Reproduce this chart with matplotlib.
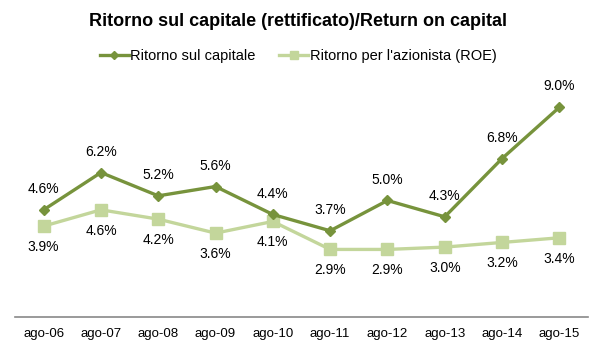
import matplotlib
matplotlib.use("Agg")
import matplotlib.pyplot as plt

categories = ["ago-06", "ago-07", "ago-08", "ago-09", "ago-10", "ago-11", "ago-12", "ago-13", "ago-14", "ago-15"]
roc = [4.6, 6.2, 5.2, 5.6, 4.4, 3.7, 5.0, 4.3, 6.8, 9.0]
roe = [3.9, 4.6, 4.2, 3.6, 4.1, 2.9, 2.9, 3.0, 3.2, 3.4]
title = "Ritorno sul capitale (rettificato)/Return on capital"
name_roc = "Ritorno sul capitale"
name_roe = "Ritorno per l'azionista (ROE)"

plt.rcParams['font.family'] = ['Liberation Sans', 'DejaVu Sans']

dark = "#77933C"
light = "#C3D69B"

fig = plt.figure(figsize=(5.96, 3.52), dpi=100)
ax = fig.add_axes([15/596, 35/352, 573/596, 233/352])
x = list(range(len(categories)))
ax.plot(x, roc, color=dark, lw=2.4, marker="D", ms=5.5, label=name_roc, zorder=3)
ax.plot(x, roe, color=light, lw=2.4, marker="s", ms=8, label=name_roe, zorder=2)

for xi, v in zip(x, roc):
    ax.annotate(f"{v:.1f}%", (xi, v), xytext=(0, 10), textcoords="offset points",
                ha="center", va="bottom", fontsize=10, color="#000000")
for xi, v in zip(x, roe):
    ax.annotate(f"{v:.1f}%", (xi, v), xytext=(0, -10), textcoords="offset points",
                ha="center", va="top", fontsize=10, color="#000000")

ax.set_xlim(-0.5, len(categories) - 0.5)
ax.set_ylim(0, 10)
ax.set_yticks([])
ax.set_xticks(x)
ax.set_xticklabels(categories, fontsize=9.5)
ax.tick_params(axis="x", length=0, pad=8)
for s in ["top", "right", "left"]:
    ax.spines[s].set_visible(False)
ax.spines["bottom"].set_color("#898989")
ax.spines["bottom"].set_linewidth(1.2)

fig.text(0.5, 1 - 22/352, title, ha="center", va="center", fontsize=13, fontweight="bold")
fig.legend(loc="center", bbox_to_anchor=(0.5, 1 - 56/352), ncol=2, frameon=False,
           fontsize=10.5, handlelength=2.0, handletextpad=0.1, columnspacing=1.6,
           markerscale=0.8)

fig.savefig("out.png", dpi=100)
